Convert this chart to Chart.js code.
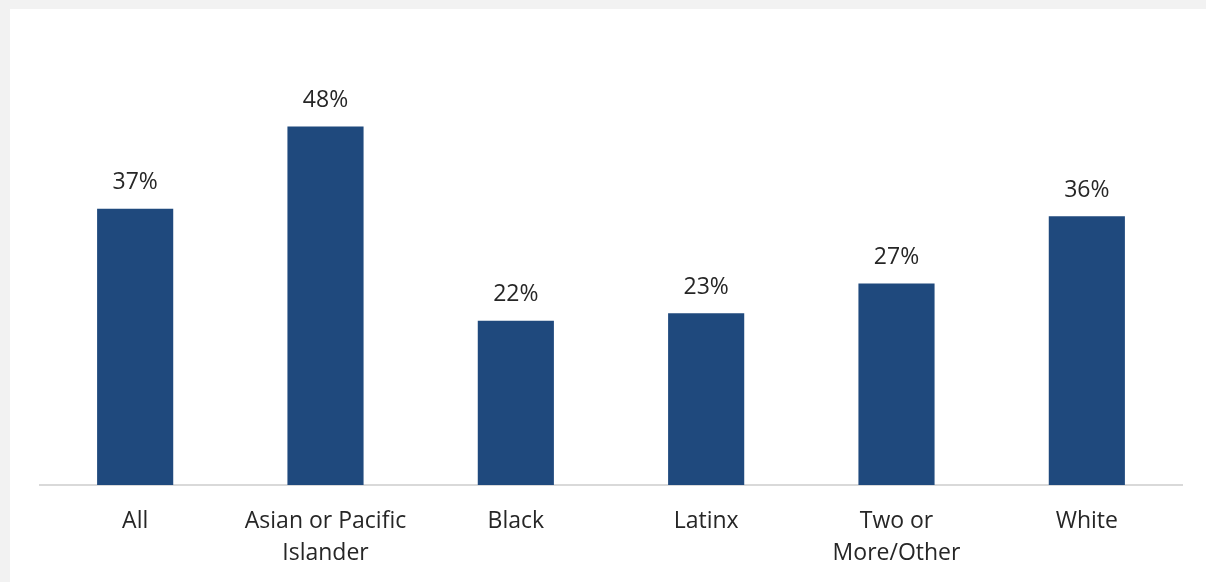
<!DOCTYPE html>
<html>
<head>
<meta charset="utf-8">
<script src="https://cdn.jsdelivr.net/npm/chart.js@4"></script>
<style>
  html, body { margin: 0; padding: 0; background: #f2f2f2; }
  .panel { position: absolute; left: 10px; top: 9px; width: 1196px; height: 573px; background: #fff; }
</style>
</head>
<body>
<div class="panel"><canvas id="myChart" width="1196" height="573"></canvas></div>
<script>
// categories and values (percent)
const categories = ['All', ['Asian or Pacific', 'Islander'], 'Black', 'Latinx', ['Two or', 'More/Other'], 'White'];
const values = [37, 48, 22, 23, 27, 36];

const barColor = 'rgb(31, 73, 125)';
const textColor = '#262626';

// value labels above bars
const valueLabels = {
  id: 'valueLabels',
  afterDatasetsDraw(chart) {
    const {ctx} = chart;
    const meta = chart.getDatasetMeta(0);
    ctx.save();
    ctx.font = '23px "Open Sans"';
    ctx.fillStyle = textColor;
    ctx.textAlign = 'center';
    ctx.textBaseline = 'middle';
    meta.data.forEach((bar, i) => {
      ctx.fillText(values[i] + '%', bar.x, bar.y - 26);
    });
    ctx.restore();
  }
};

const config = {
  type: 'bar',
  data: {
    labels: categories,
    datasets: [{
      data: values,
      backgroundColor: barColor,
      borderWidth: 0,
      barPercentage: 0.4,
      categoryPercentage: 1
    }]
  },
  options: {
    responsive: false,
    animation: false,
    layout: { padding: { left: 30, right: 24, top: 28, bottom: 0 } },
    scales: {
      y: {
        display: false,
        min: 0,
        max: 60
      },
      x: {
        grid: { display: false, drawTicks: false },
        border: { display: true, color: '#d9d9d9', width: 2 },
        ticks: {
          color: textColor,
          font: { family: 'Open Sans', size: 23, lineHeight: 1.38 },
          padding: 21,
          maxRotation: 0,
          autoSkip: false
        },
        afterFit(scale) { scale.height = 97; }
      }
    },
    plugins: {
      legend: { display: false },
      tooltip: { enabled: false }
    }
  },
  plugins: [valueLabels]
};

const myChart = new Chart(document.getElementById('myChart'), config);
</script>
</body>
</html>
